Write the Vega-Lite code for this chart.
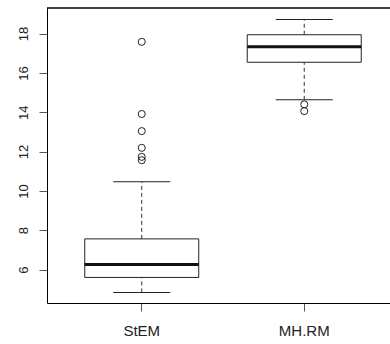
{
  "$schema": "https://vega.github.io/schema/vega-lite/v6.json",
  "width": 343,
  "height": 295,
  "autosize": {"type": "none"},
  "padding": {"left": 47, "top": 8, "right": 0, "bottom": 41},
  "background": "white",
  "config": {"view": {"stroke": null}, "font": "Liberation Sans"},
  "datasets": {
    "summary": [
      {"group": "StEM", "lo": 4.84, "q1": 5.60, "median": 6.26, "q3": 7.56, "hi": 10.46},
      {"group": "MH.RM", "lo": 14.63, "q1": 16.54, "median": 17.33, "q3": 17.94, "hi": 18.72}
    ],
    "outliers": [
      {"group": "StEM", "value": 17.58},
      {"group": "StEM", "value": 13.91},
      {"group": "StEM", "value": 13.04},
      {"group": "StEM", "value": 12.19},
      {"group": "StEM", "value": 11.73},
      {"group": "StEM", "value": 11.56},
      {"group": "MH.RM", "value": 14.40},
      {"group": "MH.RM", "value": 14.06}
    ]
  },
  "layer": [
    {
      "data": {"name": "summary"},
      "mark": {"type": "rule", "strokeDash": [4, 3], "color": "#333", "strokeWidth": 1},
      "encoding": {
        "x": {
          "field": "group", "type": "nominal",
          "scale": {"domain": ["StEM", "MH.RM"], "paddingInner": 0.2985, "paddingOuter": 0.2046, "align": 0.5676},
          "axis": {
            "title": null, "labelAngle": 0, "labelFontSize": 15, "labelColor": "#222",
            "labelPadding": 12, "domainColor": "#000", "domainWidth": 1,
            "tickColor": "#555", "tickSize": 8, "grid": false
          }
        },
        "y": {
          "field": "q3", "type": "quantitative",
          "scale": {"domain": [4.3, 19.3], "nice": false, "zero": false},
          "axis": {
            "title": null, "values": [6, 8, 10, 12, 14, 16, 18], "grid": false,
            "labelAngle": 270, "labelAlign": "center", "labelBaseline": "bottom",
            "labelPadding": 9, "labelFontSize": 13, "labelColor": "#222",
            "domainColor": "#000", "domainWidth": 1, "tickColor": "#555", "tickSize": 8
          }
        },
        "y2": {"field": "hi"}
      }
    },
    {
      "data": {"name": "summary"},
      "mark": {"type": "rule", "strokeDash": [4, 3], "color": "#333", "strokeWidth": 1},
      "encoding": {
        "x": {"field": "group", "type": "nominal"},
        "y": {"field": "lo", "type": "quantitative"},
        "y2": {"field": "q1"}
      }
    },
    {
      "data": {"name": "summary"},
      "mark": {"type": "bar", "fill": "white", "stroke": "#222", "strokeWidth": 1, "opacity": 1},
      "encoding": {
        "x": {"field": "group", "type": "nominal"},
        "y": {"field": "q1", "type": "quantitative"},
        "y2": {"field": "q3"}
      }
    },
    {
      "data": {"name": "summary"},
      "mark": {"type": "tick", "color": "#111", "size": 114, "thickness": 3, "opacity": 1},
      "encoding": {
        "x": {"field": "group", "type": "nominal"},
        "y": {"field": "median", "type": "quantitative"}
      }
    },
    {
      "data": {"name": "summary"},
      "mark": {"type": "tick", "color": "#222", "size": 57, "thickness": 1, "opacity": 1},
      "encoding": {
        "x": {"field": "group", "type": "nominal"},
        "y": {"field": "hi", "type": "quantitative"}
      }
    },
    {
      "data": {"name": "summary"},
      "mark": {"type": "tick", "color": "#222", "size": 57, "thickness": 1, "opacity": 1},
      "encoding": {
        "x": {"field": "group", "type": "nominal"},
        "y": {"field": "lo", "type": "quantitative"}
      }
    },
    {
      "data": {"name": "outliers"},
      "mark": {"type": "point", "shape": "circle", "filled": false, "color": "#222", "size": 50, "strokeWidth": 1, "opacity": 1},
      "encoding": {
        "x": {"field": "group", "type": "nominal"},
        "y": {"field": "value", "type": "quantitative"}
      }
    },
    {
      "data": {"name": "summary"},
      "mark": {"type": "rule", "color": "#000", "strokeWidth": 1},
      "encoding": {
        "y": {"datum": 19.3}
      }
    }
  ]
}
